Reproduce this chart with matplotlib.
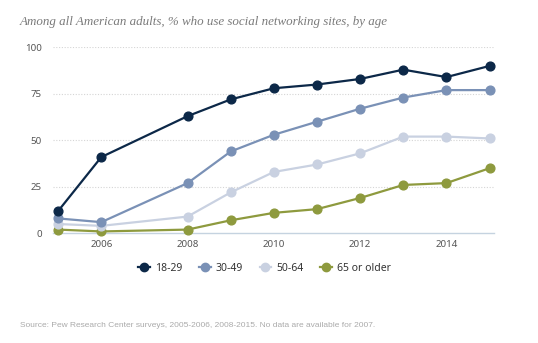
import matplotlib
matplotlib.use("Agg")
import matplotlib.pyplot as plt
from matplotlib.lines import Line2D

years = [2005, 2006, 2008, 2009, 2010, 2011, 2012, 2013, 2014, 2015]
age_18_29 = [12, 41, 63, 72, 78, 80, 83, 88, 84, 90]
age_30_49 = [8, 6, 27, 44, 53, 60, 67, 73, 77, 77]
age_50_64 = [5, 4, 9, 22, 33, 37, 43, 52, 52, 51]
age_65_plus = [2, 1, 2, 7, 11, 13, 19, 26, 27, 35]

labels = ["18-29", "30-49", "50-64", "65 or older"]
colors = ["#0c2848", "#7a91b6", "#c9d1e1", "#8e9a3e"]
series = [age_18_29, age_30_49, age_50_64, age_65_plus]

y_ticks = [0, 25, 50, 75, 100]
x_ticks = [2006, 2008, 2010, 2012, 2014]

fig = plt.figure(figsize=(5.38, 3.43), dpi=100)
ax = fig.add_axes([0.0985, 0.3198, 0.8195, 0.5422])

for vals, col in zip(reversed(series), reversed(colors)):
    ax.plot(years, vals, color=col, lw=1.6, marker="o", markersize=6.3,
            clip_on=False, zorder=3)

ax.set_xlim(2004.88, 2015.1)
ax.set_ylim(0, 100)
ax.set_yticks(y_ticks)
ax.set_xticks(x_ticks)
ax.tick_params(axis="both", length=0, labelsize=7, colors="#555555")
ax.tick_params(axis="y", pad=8)
ax.tick_params(axis="x", pad=5)
for t in ax.get_yticklabels() + ax.get_xticklabels():
    t.set_family("Noto Sans")

for y in y_ticks[1:]:
    ax.axhline(y, color="#d5d5d5", lw=0.8, ls=(0, (1, 1.5)), zorder=1)

for s in ["top", "right", "left"]:
    ax.spines[s].set_visible(False)
ax.spines["bottom"].set_color("#c5d3e0")
ax.spines["bottom"].set_linewidth(1)

fig.text(0.037, 0.935, "Among all American adults, % who use social networking sites, by age",
         family="Liberation Serif", style="italic", fontsize=9.4, color="#7a7a7a",
         va="center", ha="left")

handles = [Line2D([0], [0], color=c, lw=1.6, marker="o", markersize=6) for c in colors]
leg = fig.legend(handles, labels, loc="center", bbox_to_anchor=(0.492, 0.218),
                 ncol=4, frameon=False, handlelength=1.1, handletextpad=0.5,
                 columnspacing=1.6, prop={"family": "Noto Sans", "size": 7.5,
                                          "weight": "bold"})
for t in leg.get_texts():
    t.set_color("#333333")

fig.text(0.037, 0.052, "Source: Pew Research Center surveys, 2005-2006, 2008-2015. No data are available for 2007.",
         family="Liberation Sans", fontsize=6.0, color="#aaaaaa", va="center", ha="left")

fig.savefig("out.png", dpi=100, facecolor="white")
